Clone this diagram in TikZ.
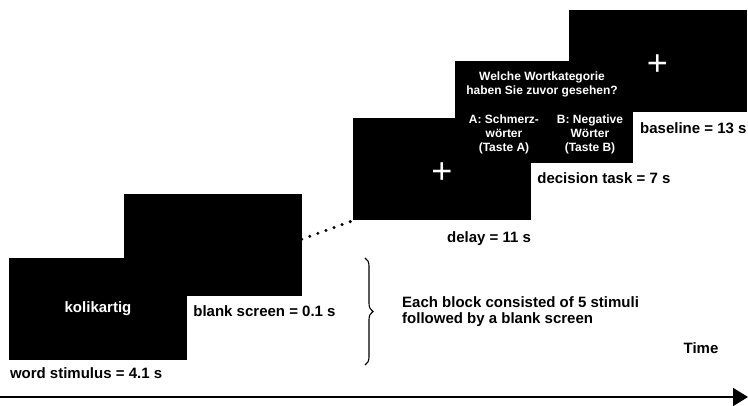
\documentclass[tikz,border=0pt]{standalone}
\usepackage{fontspec}
\setmainfont{Liberation Sans}
\usetikzlibrary{positioning,arrows.meta,decorations.pathreplacing}

\begin{document}
\begin{tikzpicture}[
    x=1pt, y=-1pt,
    screen/.style={rectangle, fill=black, minimum width=178pt, minimum height=102pt, inner sep=0pt, text=white, font=\fontsize{15}{17}\selectfont\bfseries},
    lbl/.style={inner sep=0pt, align=left, font=\fontsize{15}{16.5}\selectfont\bfseries},
    qtxt/.style={inner sep=0pt, text=white, align=center, font=\fontsize{12}{14}\selectfont\bfseries},
    cross/.style={inner sep=0pt, text=white, font=\fontsize{36}{36}\selectfont},
    dots/.style={line width=3.4pt, line cap=round, dash pattern=on 0pt off 8.6pt},
    timeline/.style={line width=1.8pt, -{Triangle[length=15pt,width=18pt]}}
]
\useasboundingbox (0,0) rectangle (748,406);

% screens of one trial
\node[screen] (blank) at (212.5,245.5) {};
\node[screen] (word) at (98,309) {kolikartig};
\node[screen] (delay) at (442,169.5) {};
\node[screen] (base) at (657.5,61) {};
\node[screen] (dec) at (544,112.5) {};

% screen contents
\node[cross] (fix1) at ([yshift=-4pt]delay.center) {+};
\node[cross] (fix2) at ([yshift=-4pt]base.center) {+};
\node[qtxt] (quest) at ([xshift=-2pt,yshift=28pt]dec.center) {Welche Wortkategorie\\haben Sie zuvor gesehen?};
\node[qtxt] (optA) at ([xshift=-40pt,yshift=-21.5pt]dec.center) {A: Schmerz-\\wörter\\(Taste A)};
\node[qtxt] (optB) at ([xshift=46pt,yshift=-21.5pt]dec.center) {B: Negative\\Wörter\\(Taste B)};

% durations
\node[lbl, below right=7pt and 1pt of word.south west] (lword) {word stimulus = 4.1 s};
\node[lbl, right=6pt of word, yshift=-2pt] (lblank) {blank screen = 0.1 s};
\node[lbl, below left=11pt and 0pt of delay.south east] (ldelay) {delay = 11 s};
\node[lbl, anchor=north west, xshift=6pt, yshift=-8.5pt] (ldec) at (dec.south -| delay.east) {decision task = 7 s};
\node[lbl, below left=10.5pt and 0pt of base.south east] (lbase) {baseline = 13 s};

% block brace
\coordinate (btop) at (365,258);
\coordinate (bbot) at (365,365);
\draw[line width=1.1pt, decorate, decoration={brace, amplitude=8pt}] (btop) -- (bbot);
\coordinate (btip) at (373,311.5);
\node[lbl, right=29pt of btip] (note) {Each block consisted of 5 stimuli\\followed by a blank screen};

% dotted gap
\draw[dots] (blank.4) -- (delay.south west);

% time axis
\coordinate (t0) at (0,397);
\coordinate (t1) at (748,397);
\draw[timeline] (t0) -- (t1);
\node[lbl] (time) at (701,348) {Time};
\end{tikzpicture}
\end{document}
